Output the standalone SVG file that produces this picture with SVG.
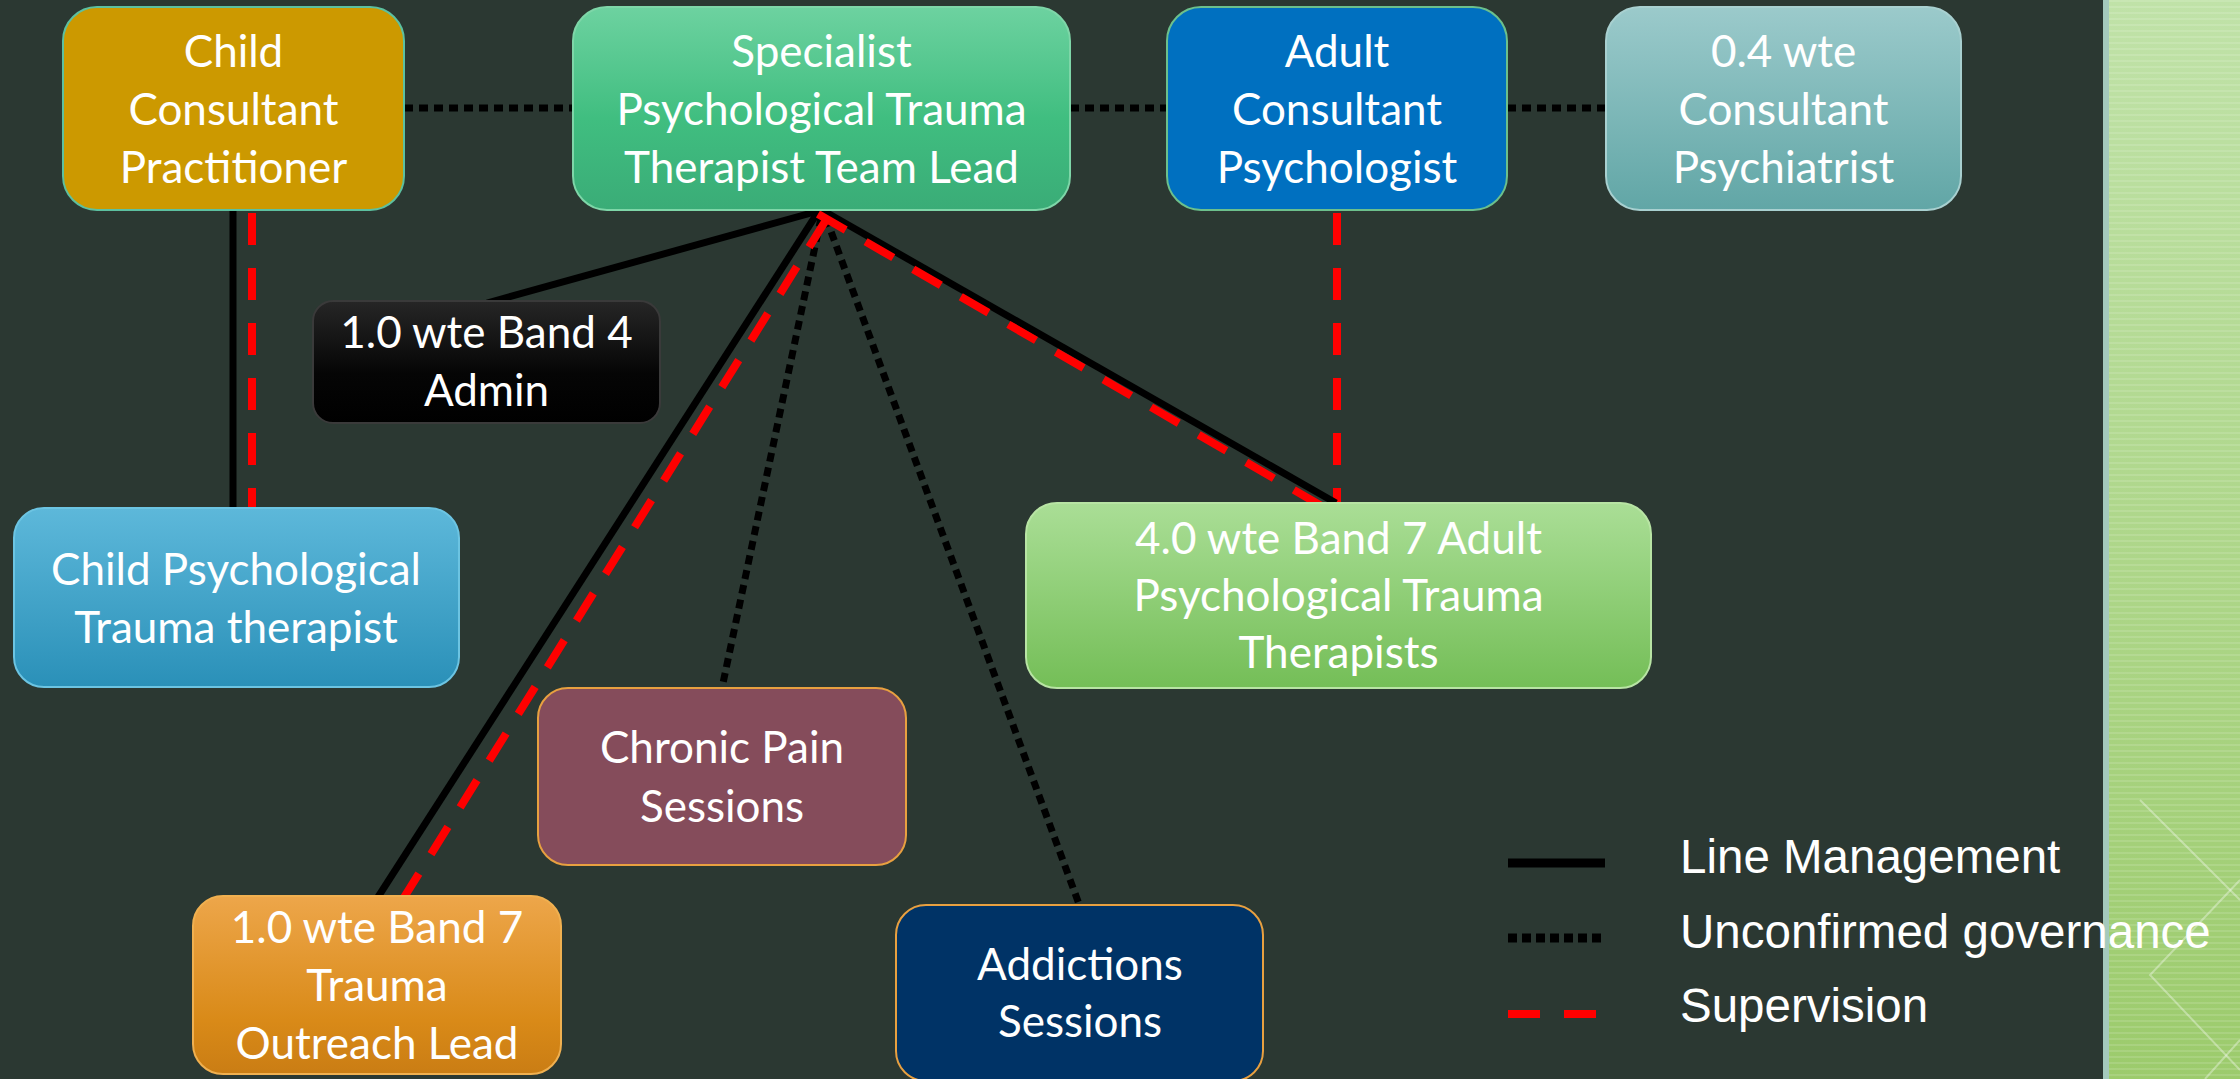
<svg xmlns="http://www.w3.org/2000/svg" width="2240" height="1079" viewBox="0 0 2240 1079">
  <defs>
    <linearGradient id="gSpec" x1="0" y1="0" x2="0" y2="1">
      <stop offset="0" stop-color="#6DD2A0"/>
      <stop offset="0.55" stop-color="#40BE80"/>
      <stop offset="1" stop-color="#3AAC77"/>
    </linearGradient>
    <linearGradient id="gPsych" x1="0" y1="0" x2="0" y2="1">
      <stop offset="0" stop-color="#9BCACB"/>
      <stop offset="1" stop-color="#61A6A6"/>
    </linearGradient>
    <linearGradient id="gAdmin" x1="0" y1="0" x2="0" y2="1">
      <stop offset="0" stop-color="#262626"/>
      <stop offset="0.6" stop-color="#050505"/>
      <stop offset="1" stop-color="#000000"/>
    </linearGradient>
    <linearGradient id="gChild" x1="0" y1="0" x2="0" y2="1">
      <stop offset="0" stop-color="#5DB8DA"/>
      <stop offset="1" stop-color="#2A90B8"/>
    </linearGradient>
    <linearGradient id="gAdult7" x1="0" y1="0" x2="0" y2="1">
      <stop offset="0" stop-color="#AADE96"/>
      <stop offset="1" stop-color="#74BE57"/>
    </linearGradient>
    <linearGradient id="gOut" x1="0" y1="0" x2="0" y2="1">
      <stop offset="0" stop-color="#EDA64A"/>
      <stop offset="0.7" stop-color="#D98A18"/>
      <stop offset="1" stop-color="#CA7D14"/>
    </linearGradient>
    <linearGradient id="gPanel" x1="0" y1="0" x2="0" y2="1">
      <stop offset="0" stop-color="#C0E2A8"/>
      <stop offset="1" stop-color="#9CCB6C"/>
    </linearGradient>
    <pattern id="stripes" width="8" height="6" patternUnits="userSpaceOnUse">
      <rect width="8" height="2" fill="#FFFFFF" fill-opacity="0.12"/>
    </pattern>
    <style>
      .node text { font-family: Lato, "Open Sans", sans-serif; font-size: 44px; fill: #FFFFFF; text-anchor: middle; }
      .solid { stroke: #000000; stroke-width: 7; fill: none; }
      .dotted { stroke: #000000; stroke-width: 7; stroke-dasharray: 9 6; fill: none; }
      .dashed { stroke: #FF0000; stroke-width: 8; stroke-dasharray: 32 23; fill: none; }
      .legend text { font-family: "Liberation Sans", Arial, sans-serif; font-size: 47.5px; fill: #FFFFFF; }
    </style>
  </defs>

  <!-- background -->
  <rect x="0" y="0" width="2240" height="1079" fill="#2B3832"/>
  <rect x="2103" y="0" width="137" height="1079" fill="url(#gPanel)"/>
  <rect x="2103" y="0" width="137" height="1079" fill="url(#stripes)"/>
  <rect x="2103" y="0" width="6" height="1079" fill="#A4C9BC"/>
  <g stroke="#FFFFFF" stroke-opacity="0.35" stroke-width="2" fill="none">
    <polyline points="2140,800 2240,900"/>
    <polyline points="2240,880 2150,975 2240,1070"/>
    <polyline points="2205,1079 2240,1040"/>
  </g>

  <!-- connectors -->
  <g id="connectors">
    <line class="dotted" x1="404" y1="108" x2="573" y2="108"/>
    <line class="dotted" x1="1070" y1="108" x2="1167" y2="108"/>
    <line class="dotted" x1="1507" y1="108" x2="1606" y2="108"/>

    <line class="solid" x1="233" y1="210" x2="233" y2="509"/>
    <line class="dashed" x1="252" y1="213" x2="252" y2="509"/>

    <line class="dashed" x1="1337" y1="213" x2="1337" y2="503"/>

    <line class="solid" x1="822" y1="210" x2="487" y2="303"/>
    <line class="solid" x1="818" y1="212" x2="378" y2="897" stroke-width="6"/>
    <line class="solid" x1="822" y1="210" x2="1336" y2="503"/>

    <line class="dotted" x1="821" y1="218" x2="722" y2="688"/>
    <line class="dotted" x1="826" y1="218" x2="1079" y2="904"/>

    <line class="dashed" x1="826" y1="220" x2="403" y2="899" stroke-width="7"/>
    <line class="dashed" x1="818" y1="214" x2="1325" y2="508" stroke-width="7"/>
  </g>

  <!-- nodes -->
  <g id="child-consultant" class="node">
    <rect x="63" y="7" width="341" height="203" rx="34" fill="#CC9900" stroke="#5CC0A0" stroke-width="2"/>
    <text x="233.5" y="67">Child</text>
    <text x="233.5" y="125">Consultant</text>
    <text x="233.5" y="183">Practitioner</text>
  </g>
  <g id="specialist-lead" class="node">
    <rect x="573" y="7" width="497" height="203" rx="34" fill="url(#gSpec)" stroke="#7ED6A8" stroke-width="2"/>
    <text x="821.5" y="67">Specialist</text>
    <text x="821.5" y="125">Psychological Trauma</text>
    <text x="821.5" y="183">Therapist Team Lead</text>
  </g>
  <g id="adult-consultant" class="node">
    <rect x="1167" y="7" width="340" height="203" rx="34" fill="#0070C0" stroke="#6CC08C" stroke-width="2"/>
    <text x="1337" y="67">Adult</text>
    <text x="1337" y="125">Consultant</text>
    <text x="1337" y="183">Psychologist</text>
  </g>
  <g id="psychiatrist" class="node">
    <rect x="1606" y="7" width="355" height="203" rx="34" fill="url(#gPsych)" stroke="#A8D0D0" stroke-width="2"/>
    <text x="1783.5" y="67">0.4 wte</text>
    <text x="1783.5" y="125">Consultant</text>
    <text x="1783.5" y="183">Psychiatrist</text>
  </g>
  <g id="admin" class="node">
    <rect x="313" y="301" width="347" height="122" rx="20" fill="url(#gAdmin)" stroke="#3A3A3A" stroke-width="2"/>
    <text x="486.5" y="348">1.0 wte Band 4</text>
    <text x="486.5" y="406">Admin</text>
  </g>
  <g id="child-therapist" class="node">
    <rect x="14" y="508" width="445" height="179" rx="30" fill="url(#gChild)" stroke="#6CC4E2" stroke-width="2"/>
    <text x="236" y="585">Child Psychological</text>
    <text x="236" y="643">Trauma therapist</text>
  </g>
  <g id="adult-therapists" class="node">
    <rect x="1026" y="503" width="625" height="185" rx="31" fill="url(#gAdult7)" stroke="#B8E4A4" stroke-width="2"/>
    <text x="1338.5" y="554">4.0 wte Band 7 Adult</text>
    <text x="1338.5" y="611">Psychological Trauma</text>
    <text x="1338.5" y="668">Therapists</text>
  </g>
  <g id="chronic-pain" class="node">
    <rect x="538" y="688" width="368" height="177" rx="30" fill="#854C5B" stroke="#E8A040" stroke-width="2"/>
    <text x="722" y="763">Chronic Pain</text>
    <text x="722" y="822">Sessions</text>
  </g>
  <g id="outreach-lead" class="node">
    <rect x="193" y="896" width="368" height="178" rx="30" fill="url(#gOut)" stroke="#F0B050" stroke-width="2"/>
    <text x="377" y="943">1.0 wte Band 7</text>
    <text x="377" y="1001">Trauma</text>
    <text x="377" y="1059">Outreach Lead</text>
  </g>
  <g id="addictions" class="node">
    <rect x="896" y="905" width="367" height="176" rx="30" fill="#003366" stroke="#E8A040" stroke-width="2"/>
    <text x="1080" y="980">Addictions</text>
    <text x="1080" y="1037">Sessions</text>
  </g>

  <!-- legend -->
  <g id="legend" class="legend">
    <line x1="1508" y1="863" x2="1605" y2="863" stroke="#000000" stroke-width="9"/>
    <line x1="1508" y1="938" x2="1605" y2="938" stroke="#000000" stroke-width="9" stroke-dasharray="9 5"/>
    <line x1="1508" y1="1014" x2="1596" y2="1014" stroke="#FF0000" stroke-width="8" stroke-dasharray="32 24"/>
    <text x="1680" y="873">Line Management</text>
    <text x="1680" y="948">Unconfirmed governance</text>
    <text x="1680" y="1022">Supervision</text>
  </g>
</svg>
